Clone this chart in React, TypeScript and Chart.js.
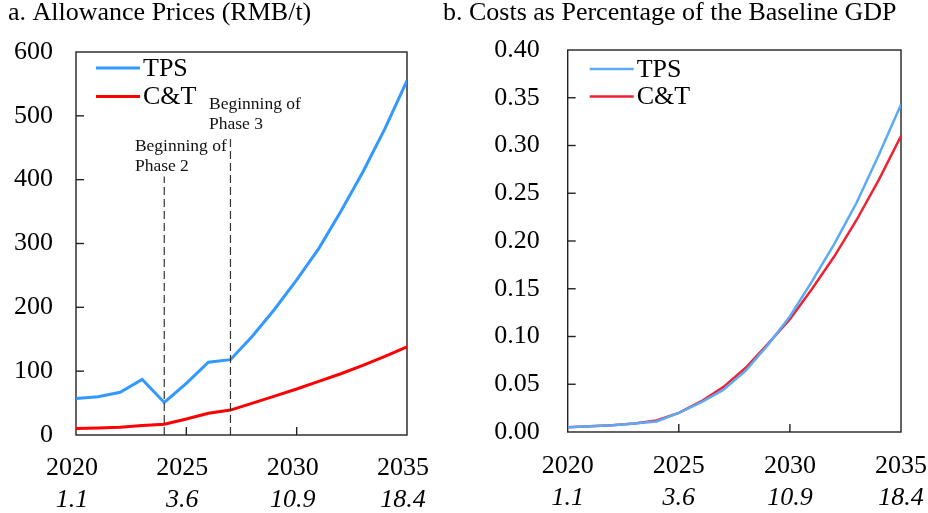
import React, { useEffect, useRef } from 'react';
import { Chart, registerables } from 'chart.js';

Chart.register(...registerables);

// ---------------- data ----------------
const years = [2020, 2021, 2022, 2023, 2024, 2025, 2026, 2027, 2028, 2029, 2030, 2031, 2032, 2033, 2034, 2035];
const priceTPS = [57, 60, 67, 87, 51, 81, 114, 118, 155, 197, 243, 292, 350, 412, 480, 555];
const priceCT = [10, 11, 12, 15, 17, 25, 34, 39, 50, 61, 72, 84, 96, 109, 123, 138];
const costTPS = [0.005, 0.006, 0.007, 0.009, 0.011, 0.02, 0.031, 0.044, 0.064, 0.091, 0.121, 0.158, 0.197, 0.24, 0.29, 0.343];
const costCT = [0.005, 0.006, 0.007, 0.009, 0.012, 0.02, 0.032, 0.047, 0.067, 0.092, 0.118, 0.15, 0.184, 0.222, 0.264, 0.31];
const seriesNames = ['TPS', 'C&T'];
const xTickYears = [2020, 2025, 2030, 2035];
const xSubLabels = ['1.1', '3.6', '10.9', '18.4'];
const phaseYears = [2024, 2027];
const phaseLineTops = [405, 464];
const phaseLabelX = [2022.67, 2026.03];
const phaseLabelY = [445, 511];
const phaseLabels = [
  ['Beginning of', 'Phase 2'],
  ['Beginning of', 'Phase 3'],
];
const titles = ['a. Allowance Prices (RMB/t)', 'b. Costs as Percentage of the Baseline GDP'];

const FONT = "'Liberation Serif', 'Times New Roman', serif";

const framePlugin = {
  id: 'frame',
  beforeDatasetsDraw(chart: any, _a: any, opts: any) {
    const { ctx, chartArea: a, scales } = chart;
    ctx.save();
    ctx.strokeStyle = '#222';
    ctx.lineWidth = 1.4;
    ctx.strokeRect(a.left, a.top, a.right - a.left, a.bottom - a.top);
    const ys = scales.y;
    ys.ticks.forEach((t: any) => {
      const p = ys.getPixelForValue(t.value);
      if (p > a.top + 2 && p < a.bottom - 2) {
        ctx.beginPath();
        ctx.moveTo(a.left, p);
        ctx.lineTo(a.left + opts.tickLen, p);
        ctx.stroke();
      }
    });
    const xs = scales.x;
    xs.ticks.forEach((t: any) => {
      const p = xs.getPixelForValue(t.value);
      if (p > a.left + 2 && p < a.right - 2) {
        ctx.beginPath();
        ctx.moveTo(p, a.bottom);
        ctx.lineTo(p, a.bottom - opts.tickLen);
        ctx.stroke();
      }
    });
    ctx.restore();
  },
  afterDatasetsDraw(chart: any, _a: any, opts: any) {
    const { ctx, chartArea: a, scales } = chart;
    ctx.save();
    if (opts.phases) {
      const xs = scales.x;
      const ys = scales.y;
      ctx.strokeStyle = '#333';
      ctx.lineWidth = 1.2;
      ctx.setLineDash([8, 4]);
      phaseYears.forEach((yr, i) => {
        const px = xs.getPixelForValue(yr);
        ctx.beginPath();
        ctx.moveTo(px, a.bottom);
        ctx.lineTo(px, ys.getPixelForValue(phaseLineTops[i]));
        ctx.stroke();
      });
      ctx.setLineDash([]);
      ctx.fillStyle = '#111';
      ctx.font = `17.5px ${FONT}`;
      ctx.textAlign = 'left';
      ctx.textBaseline = 'alphabetic';
      phaseLabels.forEach((lines, i) => {
        const px = xs.getPixelForValue(phaseLabelX[i]);
        const py = ys.getPixelForValue(phaseLabelY[i]);
        lines.forEach((l, j) => ctx.fillText(l, px, py + j * 20));
      });
    }
    // legend
    ctx.font = `26px ${FONT}`;
    ctx.textBaseline = 'middle';
    ctx.textAlign = 'left';
    chart.data.datasets.forEach((ds: any, i: number) => {
      const y = a.top + opts.legendY + i * opts.legendGap;
      const x0 = a.left + opts.legendX;
      ctx.strokeStyle = ds.borderColor;
      ctx.lineWidth = ds.borderWidth;
      ctx.beginPath();
      ctx.moveTo(x0, y);
      ctx.lineTo(x0 + 44, y);
      ctx.stroke();
      ctx.fillStyle = '#000';
      ctx.fillText(ds.label, x0 + 47, y + 1);
    });
    ctx.restore();
  },
};

type PanelCfg = {
  title: string;
  tps: number[];
  ct: number[];
  colors: string[];
  lineWidth: number;
  yMax: number;
  yStep: number;
  yDigits: number;
  padLeft: number;
  padRight: number;
  yWidth: number;
  yPad: number;
  titleBottom: number;
  xPad: number;
  xHeight: number;
  x2Pad: number;
  x2Height: number;
  labelOffset: number;
  phases: boolean;
  legendX: number;
  legendY: number;
  legendGap: number;
};

function Panel({ cfg, left, width }: { cfg: PanelCfg; left: number; width: number }) {
  const ref = useRef<HTMLCanvasElement | null>(null);
  useEffect(() => {
    if (!ref.current) return;
    const mk = (vals: number[]) => years.map((x, i) => ({ x, y: vals[i] }));
    const fitX = (h: number) => (s: any) => {
      s.height = h;
      s.paddingLeft = 0;
      s.paddingRight = 0;
    };
    const chart = new Chart(ref.current, {
      type: 'line',
      data: {
        datasets: [
          { label: seriesNames[0], data: mk(cfg.tps), borderColor: cfg.colors[0], borderWidth: cfg.lineWidth, pointRadius: 0, tension: 0, fill: false },
          { label: seriesNames[1], data: mk(cfg.ct), borderColor: cfg.colors[1], borderWidth: cfg.lineWidth, pointRadius: 0, tension: 0, fill: false },
        ],
      },
      options: {
        responsive: false,
        animation: false,
        layout: { padding: { left: cfg.padLeft, right: cfg.padRight, top: 0, bottom: 0 } },
        plugins: {
          legend: { display: false },
          tooltip: { enabled: false },
          title: {
            display: true,
            text: cfg.title,
            align: 'start',
            color: '#000',
            font: { family: FONT, size: 26, weight: 'normal', lineHeight: 1 },
            padding: { top: 0, bottom: cfg.titleBottom },
          },
          frame: {
            tickLen: 8,
            phases: cfg.phases,
            legendX: cfg.legendX,
            legendY: cfg.legendY,
            legendGap: cfg.legendGap,
          },
        } as any,
        scales: {
          x: {
            type: 'linear',
            position: 'bottom',
            min: 2020,
            max: 2035,
            weight: 0,
            grid: { display: false },
            border: { display: false },
            afterFit: fitX(cfg.xHeight),
            ticks: {
              stepSize: 5,
              color: '#000',
              padding: cfg.xPad,
              labelOffset: cfg.labelOffset,
              maxRotation: 0,
              font: { family: FONT, size: 26 },
              callback: (v: any) => String(v),
            },
          },
          x2: {
            type: 'linear',
            position: 'bottom',
            min: 2020,
            max: 2035,
            weight: 1,
            grid: { display: false },
            border: { display: false },
            afterFit: fitX(cfg.x2Height),
            ticks: {
              stepSize: 5,
              color: '#000',
              padding: cfg.x2Pad,
              labelOffset: cfg.labelOffset,
              maxRotation: 0,
              font: { family: FONT, size: 26, style: 'italic' },
              callback: (v: any) => {
                const k = xTickYears.indexOf(Number(v));
                return k >= 0 ? xSubLabels[k] : '';
              },
            },
          },
          y: {
            type: 'linear',
            min: 0,
            max: cfg.yMax,
            grid: { display: false, drawTicks: false },
            border: { display: false },
            afterFit: (s: any) => {
              s.width = cfg.yWidth;
              s.paddingTop = 0;
              s.paddingBottom = 0;
            },
            ticks: {
              stepSize: cfg.yStep,
              color: '#000',
              padding: cfg.yPad,
              font: { family: FONT, size: 26 },
              callback: (v: any) => Number(v).toFixed(cfg.yDigits),
            },
          },
        } as any,
      },
      plugins: [framePlugin as any],
    });
    return () => chart.destroy();
  }, [cfg]);
  return (
    <canvas
      ref={ref}
      width={width}
      height={513}
      style={{ position: 'absolute', left, top: 0, width, height: 513 }}
    />
  );
}

const leftCfg: PanelCfg = {
  title: titles[0],
  tps: priceTPS,
  ct: priceCT,
  colors: ['#3399ff', '#ff0000'],
  lineWidth: 3,
  yMax: 600,
  yStep: 100,
  yDigits: 0,
  padLeft: 8,
  padRight: 33,
  yWidth: 68,
  yPad: 23,
  titleBottom: 26,
  xPad: 10,
  xHeight: 42,
  x2Pad: 0,
  x2Height: 36,
  labelOffset: -4,
  phases: true,
  legendX: 20,
  legendY: 16,
  legendGap: 28.5,
};

const rightCfg: PanelCfg = {
  title: titles[1],
  tps: costTPS,
  ct: costCT,
  colors: ['#5aaaf5', '#ee2233'],
  lineWidth: 2.5,
  yMax: 0.4,
  yStep: 0.05,
  yDigits: 2,
  padLeft: 3,
  padRight: 27,
  yWidth: 124.7,
  yPad: 28,
  titleBottom: 24,
  xPad: 11,
  xHeight: 42,
  x2Pad: 1,
  x2Height: 39,
  labelOffset: 0,
  phases: false,
  legendX: 22,
  legendY: 19,
  legendGap: 27.5,
};

export default function App() {
  return (
    <div style={{ position: 'absolute', left: 0, top: 0, width: 928, height: 513, background: '#fff' }}>
      <Panel cfg={leftCfg} left={0} width={440} />
      <Panel cfg={rightCfg} left={440} width={488} />
    </div>
  );
}
